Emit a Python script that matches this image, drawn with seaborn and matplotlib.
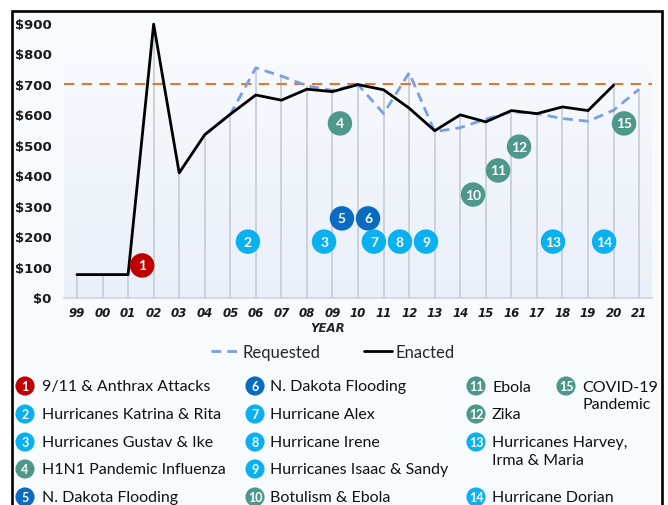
import numpy as np
import pandas as pd
import matplotlib
matplotlib.use("Agg")
import matplotlib.pyplot as plt
import seaborn as sns
from matplotlib.colors import LinearSegmentedColormap
from matplotlib.lines import Line2D
from matplotlib.patches import Rectangle

# -----------------------------
# Data
# -----------------------------
years = ["99", "00", "01", "02", "03", "04", "05", "06", "07", "08", "09",
         "10", "11", "12", "13", "14", "15", "16", "17", "18", "19", "20", "21"]
enacted = [75, 75, 75, 895, 408, 533, 600, 663, 646, 682, 674,
           697, 680, 620, 546, 598, 575, 612, 602, 624, 612, 695, np.nan]
requested = [np.nan, np.nan, np.nan, np.nan, np.nan, 533, 600, 752, 725, 693, 678,
             697, 602, 736, 543, 556, 584, 608, 602, 586, 577, 613, 682]
threshold = 700

# numbered events on the chart (x in year-index units)
event_num = list(range(1, 16))
event_x = [2.55, 6.69, 9.67, 10.29, 10.37, 11.39, 11.62, 12.64, 13.66,
           15.5, 16.48, 17.3, 18.63, 20.63, 21.41]
event_y = [105, 183, 183, 570, 259, 259, 183, 183, 183, 337, 416, 494, 183, 183, 570]
event_group = ["attack", "hurricane", "hurricane", "disease", "flood", "flood",
               "hurricane", "hurricane", "hurricane", "disease", "disease",
               "disease", "hurricane", "hurricane", "disease"]
event_label = ["9/11 & Anthrax Attacks", "Hurricanes Katrina & Rita",
               "Hurricanes Gustav & Ike", "H1N1 Pandemic Influenza",
               "N. Dakota Flooding", "N. Dakota Flooding", "Hurricane Alex",
               "Hurricane Irene", "Hurricanes Isaac & Sandy", "Botulism & Ebola",
               "Ebola", "Zika", "Hurricanes Harvey,\nIrma & Maria",
               "Hurricane Dorian", "COVID-19\nPandemic"]

palette = {"attack": "#C00000", "hurricane": "#0AB0F0",
           "flood": "#0A6CC0", "disease": "#4D978B"}

# legend grid: column and row of each event
leg_col = [0, 0, 0, 0, 0, 1, 1, 1, 1, 1, 2, 2, 2, 2, 3]
leg_row = [0, 1, 2, 3, 4, 0, 1, 2, 3, 4, 0, 1, 2, 4, 0]

df = pd.DataFrame({"idx": np.arange(len(years)), "year": years,
                   "Enacted": enacted, "Requested": requested})
events = pd.DataFrame({"num": event_num, "x": event_x, "y": event_y,
                       "group": event_group})

# -----------------------------
# Figure setup
# -----------------------------
sns.set_theme(style="white")
plt.rcParams["font.family"] = ["Lato", "DejaVu Sans"]

W, H = 668, 506
fig = plt.figure(figsize=(W / 100, H / 100), dpi=100)
fig.patch.set_facecolor("white")

# outer frame (drawn behind everything)
fig.patches.append(Rectangle((12 / W, -0.05), 650 / W, 1 - 12 / H + 0.05,
                             transform=fig.transFigure, facecolor="#F8FBFE",
                             edgecolor="black", linewidth=1.9, zorder=-5))

ax = fig.add_axes([64.2 / W, 1 - 298.5 / H, 587.7 / W, 281 / H])
ax.set_facecolor("none")
ax.set_xlim(-0.5, 22.5)
ax.set_ylim(0, 920)

# soft vertical gradient behind the plot
cmap = LinearSegmentedColormap.from_list("bg", ["#F9FBFE", "#EAF0F9"])
ax.imshow(np.linspace(0, 1, 256).reshape(-1, 1), cmap=cmap, aspect="auto",
          extent=[-0.5, 22.5, 0, 920], origin="upper", zorder=0)

# drop lines from the highest value to the axis
tops = df[["Enacted", "Requested"]].max(axis=1)
ax.vlines(df["idx"], 0, tops, color="#CDD2DA", lw=1.4, zorder=1)

ax.axhline(threshold, color="#E2772F", lw=1.5, ls=(0, (5, 3.5)), zorder=2)

sns.lineplot(data=df, x="idx", y="Requested", ax=ax, color="#7C9DE0",
             lw=2, zorder=3)
ax.lines[-1].set_linestyle((0, (3.5, 2.2)))
sns.lineplot(data=df, x="idx", y="Enacted", ax=ax, color="black", lw=2, zorder=4)

sns.scatterplot(data=events, x="x", y="y", hue="group", palette=palette,
                s=310, edgecolor="none", legend=False, ax=ax, zorder=5)
for n, x, y in zip(event_num, event_x, event_y):
    ax.text(x, y, str(n), color="white", fontsize=10, fontweight="bold",
            ha="center", va="center", zorder=6)

# axes styling
ax.set_xticks(df["idx"])
ax.set_xticklabels(years, fontsize=8.5, fontweight="bold", style="italic",
                   family="DejaVu Sans", color="#1a1a1a")
ax.set_yticks(range(0, 901, 100))
ax.set_yticklabels([f"${v}" for v in range(0, 901, 100)], fontsize=9.5,
                   fontweight="bold", family="DejaVu Sans", color="#1a1a1a")
ax.tick_params(axis="x", length=0, pad=6)
ax.tick_params(axis="y", length=0, pad=9)
for s in ["top", "right", "left"]:
    ax.spines[s].set_visible(False)
ax.spines["bottom"].set_color("#D0D4DB")
ax.spines["bottom"].set_linewidth(1.2)
ax.set_xlabel("")
ax.set_ylabel("")
fig.text(328 / W, 1 - 328 / H, "YEAR", fontsize=8.5, fontweight="bold",
         style="italic", family="DejaVu Sans", ha="center", va="center")

# line legend
handles = [Line2D([], [], color="#7C9DE0", lw=2, ls=(0, (3.5, 2.2))),
           Line2D([], [], color="black", lw=2)]
fig.legend(handles, ["Requested", "Enacted"], loc="center",
           bbox_to_anchor=(333 / W, 1 - 353 / H), ncol=2, frameon=False,
           fontsize=12, handlelength=1.7, handletextpad=0.2, columnspacing=2.6)

# numbered event legend
lax = fig.add_axes([0, 0, 1, 1])
lax.set_xlim(0, W)
lax.set_ylim(H, 0)
lax.axis("off")
col_circle = [25, 255, 476, 566]
col_text = [42, 270, 492, 582]
row_y = [387, 415, 443, 470, 498]
leg = pd.DataFrame({"x": [col_circle[c] for c in leg_col],
                    "y": [row_y[r] for r in leg_row], "group": event_group})
sns.scatterplot(data=leg, x="x", y="y", hue="group", palette=palette, s=190,
                edgecolor="none", legend=False, ax=lax, zorder=5)
for n, c, r, lab in zip(event_num, leg_col, leg_row, event_label):
    lax.text(col_circle[c], row_y[r] + 0.5, str(n), color="white", fontsize=9,
             fontweight="bold", ha="center", va="center", zorder=6)
    lax.text(col_text[c], row_y[r] - 6.5, lab, fontsize=11.5, ha="left", va="top",
             linespacing=1.3, color="#111111")
lax.set_xlabel("")
lax.set_ylabel("")

fig.savefig("out.png", dpi=100)
